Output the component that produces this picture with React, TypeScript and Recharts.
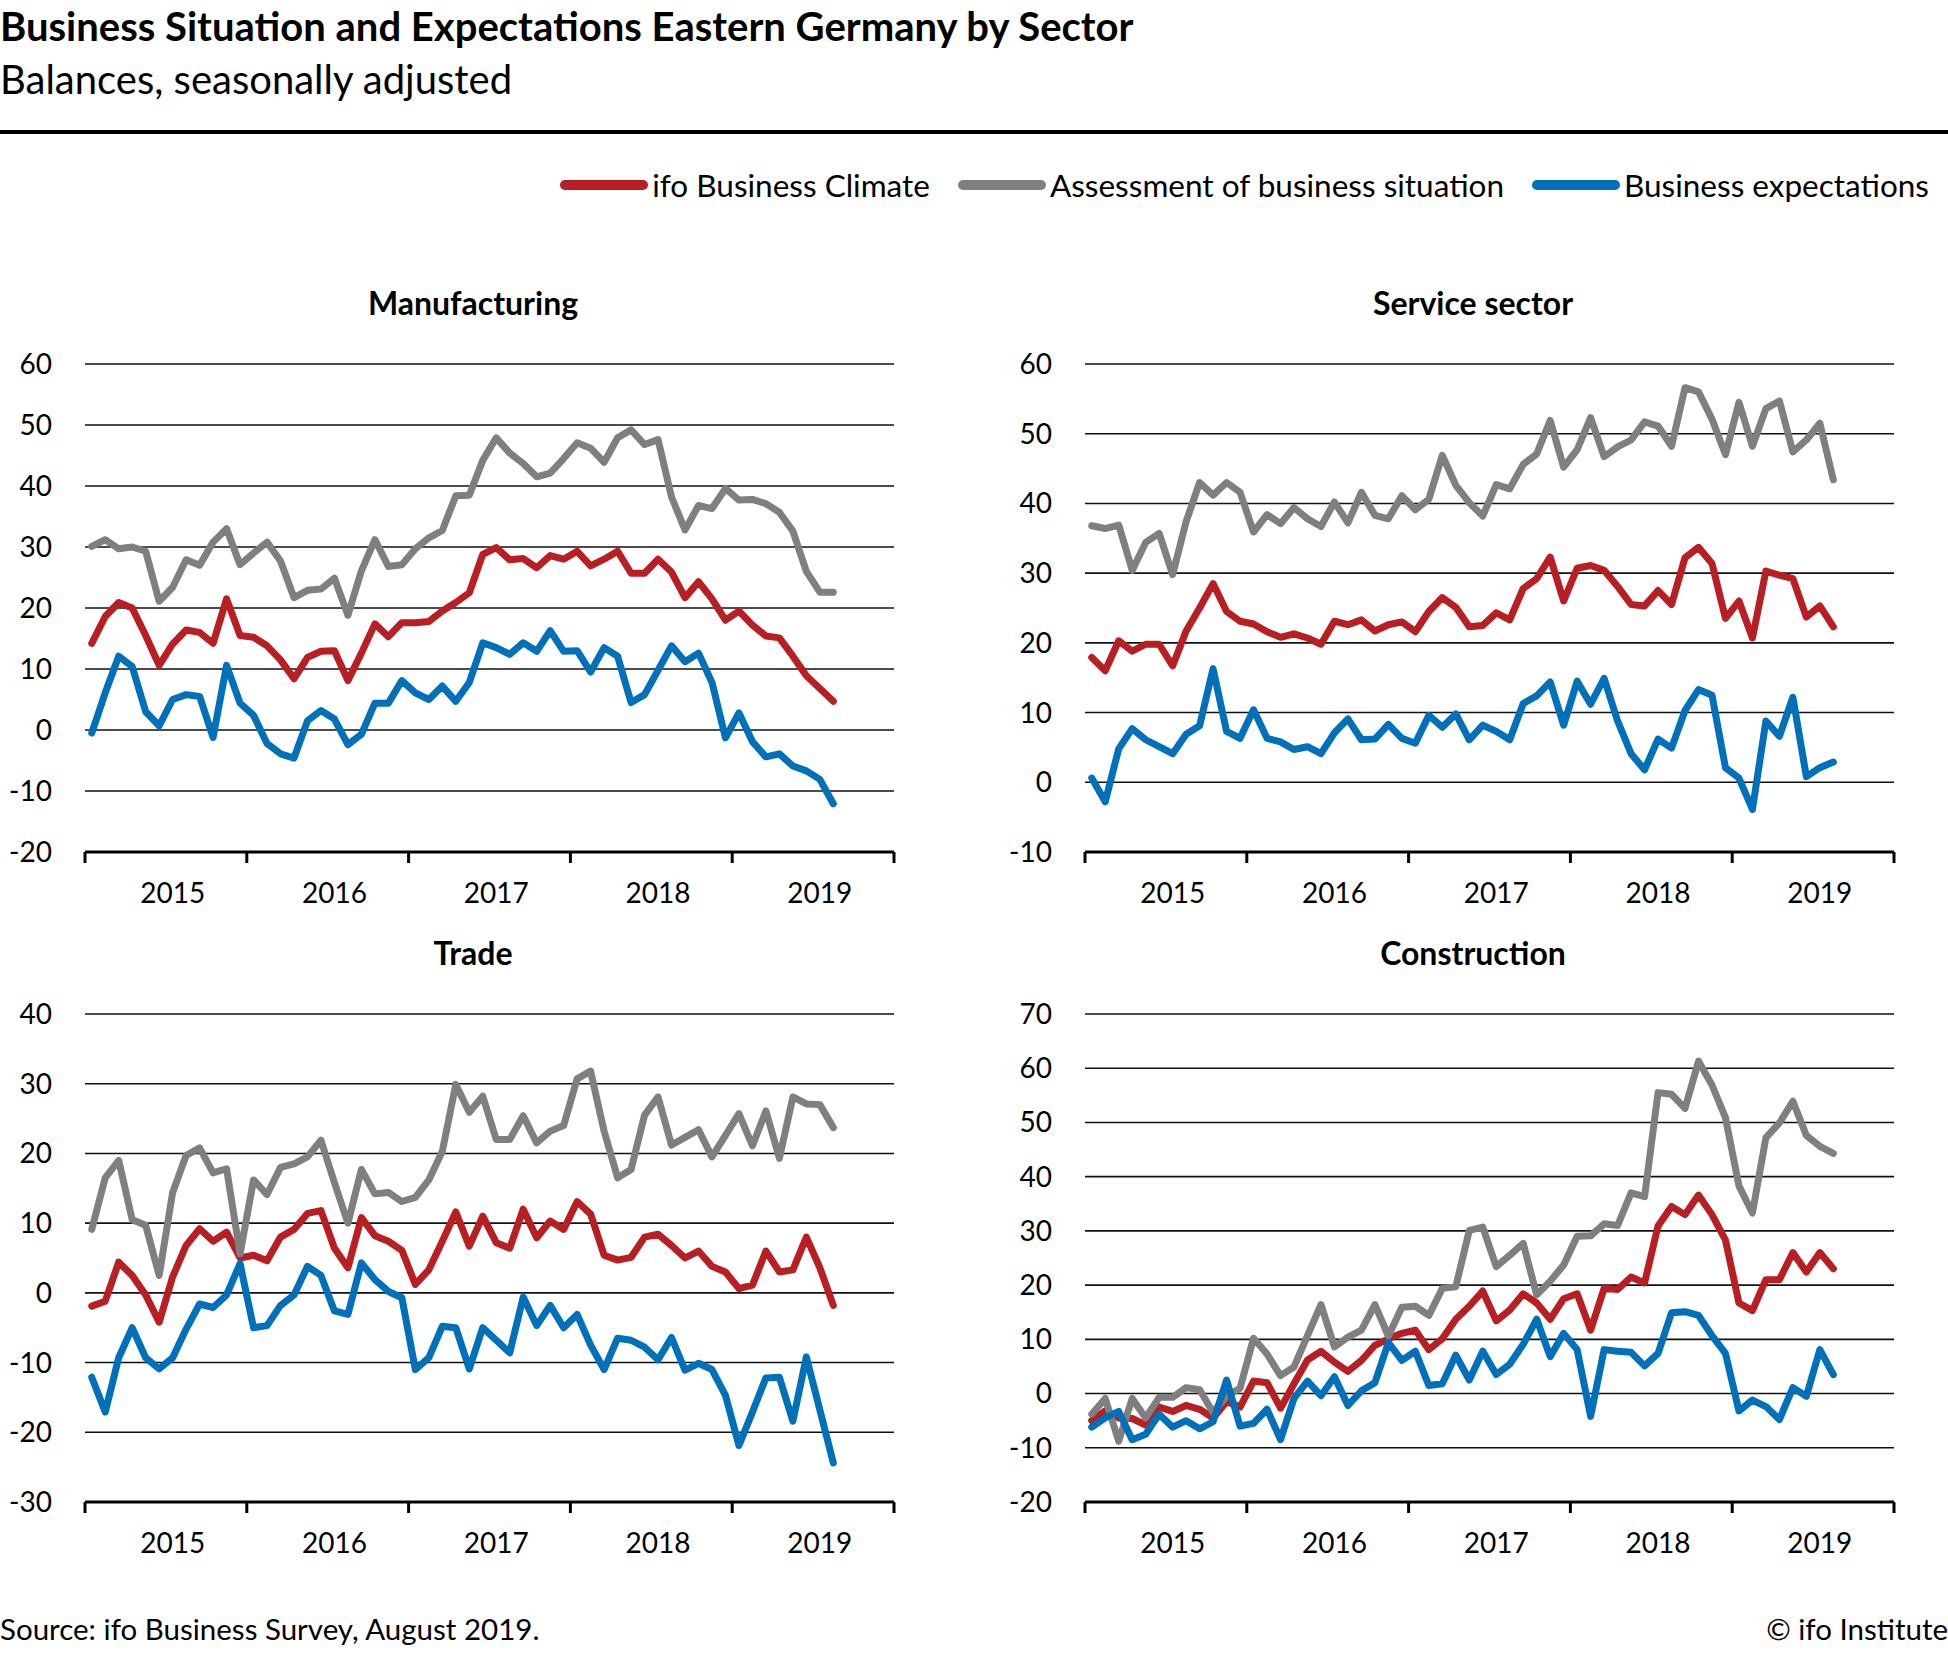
import React from "react";
import { LineChart, Line, XAxis, YAxis, CartesianGrid } from "recharts";

const FONT = "Lato, 'Noto Sans', sans-serif";

const RED = "#b81e22";
const GREY = "#7f7f7f";
const BLUE = "#0070ba";

// Monthly observations, Jan 2015 – Aug 2019
const years = ["2015", "2016", "2017", "2018", "2019"];
const monthNames = ["Jan", "Feb", "Mar", "Apr", "May", "Jun", "Jul", "Aug", "Sep", "Oct", "Nov", "Dec"];
const months = years.flatMap((y) => monthNames.map((m) => `${m} ${y}`)).slice(0, 56);

// Manufacturing
const mfgClimate = [
  14.2, 18.6, 20.9, 20.0, 15.5, 10.6, 14.1, 16.4, 16.0, 14.2, 21.5, 15.5, 15.2, 13.8, 11.5, 8.4, 11.9, 12.9, 13.0, 8.1,
  12.6, 17.4, 15.3, 17.6, 17.6, 17.8, 19.5, 20.9, 22.5, 28.8, 29.9, 27.9, 28.1, 26.6, 28.6, 28.0, 29.3, 26.9, 28.0, 29.3,
  25.7, 25.7, 28.0, 25.9, 21.7, 24.3, 21.5, 18.0, 19.5, 17.2, 15.4, 15.1, 12.1, 8.9, 6.8, 4.7,
];
const mfgSituation = [
  30.1, 31.2, 29.7, 30.0, 29.3, 21.1, 23.4, 27.9, 27.0, 30.8, 33.0, 27.1, 29.0, 30.8, 27.7, 21.7, 22.9, 23.1, 24.9, 18.8,
  26.1, 31.2, 26.8, 27.1, 29.7, 31.5, 32.7, 38.4, 38.5, 44.2, 47.9, 45.4, 43.7, 41.5, 42.1, 44.5, 47.1, 46.2, 43.9, 47.9,
  49.2, 46.8, 47.6, 38.2, 32.8, 36.8, 36.3, 39.6, 37.7, 37.8, 37.1, 35.7, 32.6, 26.0, 22.6, 22.6,
];
const mfgExpectations = [
  -0.5, 6.1, 12.1, 10.4, 3.0, 0.7, 5.0, 5.8, 5.5, -1.2, 10.6, 4.4, 2.4, -2.2, -3.9, -4.6, 1.5, 3.2, 1.8, -2.4,
  -0.7, 4.4, 4.4, 8.1, 6.1, 5.0, 7.2, 4.7, 7.8, 14.3, 13.5, 12.4, 14.3, 12.9, 16.3, 12.9, 13.0, 9.5, 13.5, 12.1,
  4.5, 5.8, 9.8, 13.8, 11.2, 12.6, 7.8, -1.3, 2.8, -1.9, -4.4, -3.9, -5.9, -6.7, -8.1, -12.1,
];

// Service sector
const svcClimate = [
  17.9, 16.0, 20.3, 18.8, 19.8, 19.8, 16.7, 21.7, 25.0, 28.5, 24.5, 23.1, 22.7, 21.6, 20.8, 21.3, 20.7, 19.8, 23.1, 22.6,
  23.3, 21.7, 22.6, 23.0, 21.6, 24.5, 26.5, 25.1, 22.3, 22.5, 24.3, 23.3, 27.8, 29.2, 32.3, 26.0, 30.7, 31.1, 30.4, 28.1,
  25.5, 25.3, 27.5, 25.5, 32.2, 33.7, 31.4, 23.5, 26.0, 20.7, 30.3, 29.7, 29.2, 23.7, 25.3, 22.3,
];
const svcSituation = [
  36.8, 36.4, 36.9, 30.4, 34.4, 35.7, 29.8, 37.4, 43.0, 41.2, 43.0, 41.6, 35.9, 38.4, 37.1, 39.4, 37.8, 36.7, 40.2, 37.2,
  41.6, 38.3, 37.8, 41.1, 39.1, 40.6, 46.9, 42.6, 40.1, 38.2, 42.7, 42.1, 45.6, 47.1, 51.9, 45.2, 47.7, 52.3, 46.7, 48.1,
  49.1, 51.7, 51.1, 48.2, 56.6, 56.0, 52.1, 47.0, 54.5, 48.2, 53.6, 54.7, 47.4, 49.1, 51.5, 43.4,
];
const svcExpectations = [
  0.6, -2.8, 4.8, 7.7, 6.1, 5.1, 4.1, 6.9, 8.1, 16.3, 7.3, 6.3, 10.4, 6.3, 5.8, 4.7, 5.1, 4.1, 7.1, 9.1,
  6.1, 6.2, 8.3, 6.3, 5.6, 9.6, 7.9, 9.8, 6.1, 8.2, 7.3, 6.1, 11.3, 12.4, 14.4, 8.2, 14.5, 11.2, 14.9, 8.8,
  4.1, 1.8, 6.2, 4.9, 10.3, 13.3, 12.5, 2.1, 0.6, -3.9, 8.8, 6.6, 12.2, 0.8, 2.1, 2.9,
];

// Trade
const trdClimate = [
  -1.9, -1.2, 4.4, 2.5, -0.3, -4.2, 2.3, 6.8, 9.2, 7.4, 8.7, 5.0, 5.4, 4.6, 8.0, 9.1, 11.4, 11.8, 6.4, 3.6,
  10.8, 8.2, 7.4, 6.1, 1.2, 3.3, 7.4, 11.6, 6.7, 11.0, 7.2, 6.4, 12.0, 7.9, 10.3, 9.1, 13.1, 11.3, 5.4, 4.7,
  5.1, 8.0, 8.4, 6.8, 5.0, 6.0, 3.8, 3.0, 0.6, 1.1, 6.0, 3.0, 3.3, 8.0, 3.6, -1.8,
];
const trdSituation = [
  9.1, 16.5, 19.0, 10.5, 9.7, 2.5, 14.4, 19.7, 20.8, 17.2, 17.8, 5.6, 16.2, 14.1, 18.0, 18.5, 19.5, 21.9, 15.8, 10.0,
  17.7, 14.2, 14.4, 13.1, 13.7, 16.2, 20.3, 29.9, 25.9, 28.2, 22.0, 22.0, 25.4, 21.5, 23.2, 24.0, 30.7, 31.8, 23.2, 16.5,
  17.7, 25.5, 28.1, 21.2, 22.3, 23.4, 19.5, 22.6, 25.7, 21.1, 26.1, 19.3, 28.1, 27.1, 27.0, 23.7,
];
const trdExpectations = [
  -12.1, -17.1, -9.3, -5.0, -9.3, -10.9, -9.3, -5.2, -1.6, -2.1, -0.3, 4.2, -5.0, -4.7, -1.8, -0.3, 3.8, 2.5, -2.6, -3.1,
  4.3, 1.9, 0.2, -0.7, -11.0, -9.3, -4.8, -5.0, -10.9, -5.0, -6.8, -8.6, -0.6, -4.7, -1.8, -5.0, -3.1, -7.5, -11.0, -6.5,
  -6.8, -7.8, -9.6, -6.4, -11.1, -10.1, -11.0, -14.7, -21.9, -17.1, -12.2, -12.1, -18.4, -9.2, -16.8, -24.4,
];

// Construction
const conClimate = [
  -5.0, -3.2, -4.5, -4.6, -5.8, -2.5, -3.3, -2.2, -2.9, -4.5, -1.5, -2.5, 2.3, 2.0, -2.7, 1.8, 6.2, 7.8, 5.8, 4.1,
  6.1, 8.9, 10.1, 11.1, 11.7, 8.1, 10.1, 13.7, 16.1, 18.9, 13.4, 15.4, 18.4, 16.7, 13.7, 17.5, 18.4, 11.7, 19.4, 19.2,
  21.5, 20.4, 30.9, 34.5, 33.0, 36.6, 33.0, 28.3, 16.7, 15.3, 21.0, 21.0, 26.0, 22.4, 26.0, 23.0,
];
const conSituation = [
  -3.8, -0.9, -8.8, -0.9, -4.5, -0.7, -0.7, 1.1, 0.7, -3.5, -0.5, 1.0, 10.2, 7.3, 3.3, 4.9, 10.7, 16.4, 8.6, 10.4,
  11.7, 16.4, 10.6, 15.9, 16.1, 14.4, 19.4, 19.7, 30.1, 30.7, 23.4, 25.5, 27.7, 18.2, 20.7, 23.7, 29.0, 29.1, 31.3, 31.0,
  37.0, 36.3, 55.5, 55.2, 52.6, 61.3, 56.9, 50.9, 38.3, 33.3, 47.2, 49.9, 53.9, 47.6, 45.6, 44.3,
];
const conExpectations = [
  -6.2, -4.5, -3.3, -8.5, -7.5, -3.8, -6.2, -5.0, -6.5, -5.2, 2.5, -6.0, -5.5, -2.9, -8.5, -0.9, 2.3, -0.4, 3.1, -2.2,
  0.5, 2.0, 9.4, 6.1, 7.8, 1.5, 1.8, 7.1, 2.5, 7.8, 3.5, 5.4, 9.1, 13.7, 6.8, 11.1, 8.1, -4.2, 8.1, 7.8,
  7.6, 5.1, 7.4, 14.9, 15.1, 14.4, 10.7, 7.4, -3.2, -1.2, -2.4, -4.8, 1.1, -0.5, 8.1, 3.5,
];

const mfgTicks = [-20, -10, 0, 10, 20, 30, 40, 50, 60];
const svcTicks = [-10, 0, 10, 20, 30, 40, 50, 60];
const trdTicks = [-30, -20, -10, 0, 10, 20, 30, 40];
const conTicks = [-20, -10, 0, 10, 20, 30, 40, 50, 60, 70];

// year boundaries (tick marks) and mid-year label positions on a month axis
const xTicks = [...years.flatMap((_, i) => [i * 12, i * 12 + 6.5]), years.length * 12];

const YearTick = (props: any) => {
  const { x, y, payload } = props;
  const v = payload.value as number;
  if (v % 12 === 0) {
    return <line x1={x} y1={y} x2={x} y2={y + 11} stroke="#000" strokeWidth={3} />;
  }
  return (
    <text x={x} y={y + 51} textAnchor="middle" fontSize={28} fontFamily={FONT} fill="#000">
      {years[Math.floor(v / 12)]}
    </text>
  );
};

type PanelProps = {
  title: string;
  left: number;
  top: number;
  ticks: number[];
  climate: number[];
  situation: number[];
  expectations: number[];
};

const Panel = ({ title, left, top, ticks, climate, situation, expectations }: PanelProps) => {
  const rows = months.map((m, i) => ({
    month: m,
    x: i + 0.5,
    climate: climate[i],
    situation: situation[i],
    expectations: expectations[i],
  }));
  const lineProps = {
    type: "linear" as const,
    strokeWidth: 7,
    dot: false,
    activeDot: false,
    isAnimationActive: false,
    strokeLinecap: "round" as const,
    strokeLinejoin: "round" as const,
  };
  return (
    <>
      <div
        style={{
          position: "absolute",
          left: left,
          width: 946,
          top: top - 55,
          textAlign: "center",
          fontFamily: FONT,
          fontWeight: 700,
          fontSize: 32,
          lineHeight: "36px",
        }}
      >
        {title}
      </div>
      <div style={{ position: "absolute", left, top }}>
        <LineChart width={930} height={572} data={rows} margin={{ top: 24, right: 36, bottom: 0, left: 0 }}>
          <CartesianGrid vertical={false} stroke="#111" strokeWidth={1.6} />
          <XAxis
            dataKey="x"
            type="number"
            domain={[0, 60]}
            allowDataOverflow
            ticks={xTicks}
            interval={0}
            tick={<YearTick />}
            tickLine={false}
            tickSize={0}
            tickMargin={0}
            axisLine={{ stroke: "#000", strokeWidth: 3 }}
            height={60}
          />
          <YAxis
            type="number"
            domain={[ticks[0], ticks[ticks.length - 1]]}
            ticks={ticks}
            interval={0}
            width={85}
            axisLine={false}
            tickLine={false}
            tickSize={0}
            tickMargin={33}
            tick={{ fontSize: 28, fill: "#000", fontFamily: FONT }}
          />
          <Line dataKey="climate" stroke={RED} {...lineProps} />
          <Line dataKey="situation" stroke={GREY} {...lineProps} />
          <Line dataKey="expectations" stroke={BLUE} {...lineProps} />
        </LineChart>
      </div>
    </>
  );
};

const legendItems = [
  { label: "ifo Business Climate", color: RED },
  { label: "Assessment of business situation", color: GREY },
  { label: "Business expectations", color: BLUE },
];

export default function App() {
  return (
    <div style={{ position: "relative", width: 1948, height: 1653, background: "#fff", fontFamily: FONT, color: "#000" }}>
      <style>{`body{margin:0}`}</style>
      <div style={{ position: "absolute", left: 0, top: 6, fontSize: 40, fontWeight: 700, lineHeight: 1 }}>
        Business Situation and Expectations Eastern Germany by Sector
      </div>
      <div style={{ position: "absolute", left: 0, top: 59, fontSize: 40, lineHeight: 1 }}>
        Balances, seasonally adjusted
      </div>
      <div style={{ position: "absolute", left: 0, top: 130, width: 1948, height: 4, background: "#000" }} />

      <div
        style={{
          position: "absolute",
          right: 19,
          top: 167,
          height: 36,
          display: "flex",
          alignItems: "center",
          gap: 28,
          fontSize: 31.5,
        }}
      >
        {legendItems.map((item) => (
          <div key={item.label} style={{ display: "flex", alignItems: "center", gap: 4 }}>
            <span style={{ width: 88, height: 10, borderRadius: 5, background: item.color, display: "inline-block" }} />
            <span>{item.label}</span>
          </div>
        ))}
      </div>

      <Panel title="Manufacturing" left={0} top={340} ticks={mfgTicks} climate={mfgClimate} situation={mfgSituation} expectations={mfgExpectations} />
      <Panel title="Service sector" left={1000} top={340} ticks={svcTicks} climate={svcClimate} situation={svcSituation} expectations={svcExpectations} />
      <Panel title="Trade" left={0} top={990} ticks={trdTicks} climate={trdClimate} situation={trdSituation} expectations={trdExpectations} />
      <Panel title="Construction" left={1000} top={990} ticks={conTicks} climate={conClimate} situation={conSituation} expectations={conExpectations} />

      <div style={{ position: "absolute", left: 0, top: 1614, fontSize: 29.5, lineHeight: 1 }}>
        Source: ifo Business Survey, August 2019.
      </div>
      <div style={{ position: "absolute", right: 0, top: 1614, fontSize: 29.5, lineHeight: 1 }}>© ifo Institute</div>
    </div>
  );
}
